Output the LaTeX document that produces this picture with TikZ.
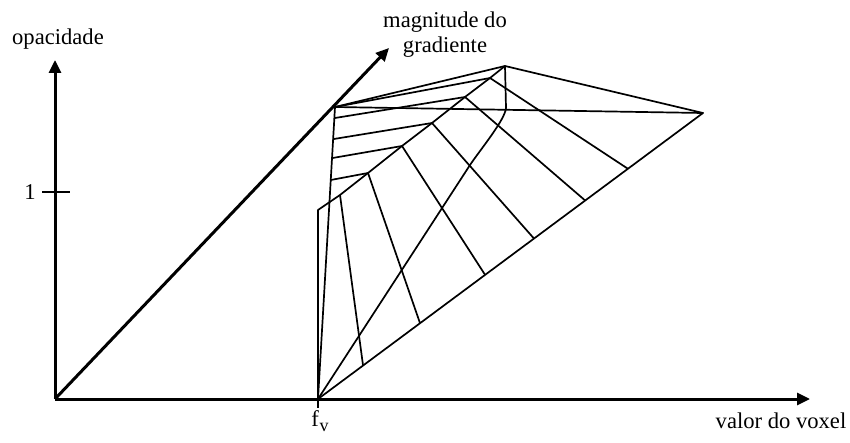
\documentclass[tikz,border=0pt]{standalone}
\usepackage{fontspec}
\setmainfont{Liberation Serif}
\usetikzlibrary{arrows.meta,calc}
\begin{document}
\begin{tikzpicture}[x=0.5pt,y=-0.5pt,
  axis/.style={line width=1.5pt,-{Triangle[length=6.5pt,width=6pt]}},
  mesh/.style={line width=0.85pt,line join=round},
  lbl/.style={font=\fontsize{11.3}{12.5}\selectfont,inner sep=0pt}]
\useasboundingbox (0,0) rectangle (850,443);
% axes
\coordinate (O) at (55,399);
\coordinate (ytip) at (55,60);
\coordinate (xtip) at (810,399);
\coordinate (dtip) at (389,48);
\draw[axis] (O) -- (ytip);
\draw[axis] (O) -- (xtip);
\draw[axis] (O) -- (dtip);
\coordinate (t1a) at (42,192);
\coordinate (t1b) at (70,192);
\draw[line width=1.4pt] (t1a) -- (t1b);
\node[lbl,anchor=east] (one) at (36,192) {1};
\node[lbl] (opac) at (58,39) {opacidade};
\node[lbl,align=center] (grad) at (445,35) {magnitude do\\gradiente};
\node[lbl] (voxel) at (781,421) {valor do voxel};
% mesh points
\coordinate (fv) at (318,399);
\coordinate (fvt) at (318,408);
\draw[line width=1.4pt] (fv) -- (fvt);
\node[lbl] (fvl) at (320,421) {f\kern0.3pt\raisebox{-0.5ex}{\fontsize{9}{9}\selectfont v}};
\coordinate (A) at (335,107);
\coordinate (B) at (505,66);
\coordinate (C) at (703,113);
\coordinate (D) at (506,108);
\coordinate (I0) at (318,210);
\coordinate (I1) at (340,195);
\coordinate (I2) at (368,173);
\coordinate (I3) at (402,146);
\coordinate (I4) at (432,123);
\coordinate (I5) at (465,97);
\coordinate (I6) at (490,78);
\coordinate (L5) at ($(A)!0.038!(fv)$);
\coordinate (L4) at ($(A)!0.110!(fv)$);
\coordinate (L3) at ($(A)!0.175!(fv)$);
\coordinate (L2) at ($(A)!0.250!(fv)$);
\coordinate (O1) at ($(fv)!0.117!(C)$);
\coordinate (O2) at ($(fv)!0.265!(C)$);
\coordinate (O3) at ($(fv)!0.434!(C)$);
\coordinate (O4) at ($(fv)!0.561!(C)$);
\coordinate (O5) at ($(fv)!0.694!(C)$);
\coordinate (O6) at ($(fv)!0.805!(C)$);
\coordinate (M1) at (470,165);
% outline
\draw[mesh] (fv) -- (A) -- (B) -- (C) -- (fv);
\draw[mesh] (A) -- (C);
\draw[mesh] (A) -- (I6);
\draw[mesh] (fv) -- (I0) -- (I1) -- (I2) -- (I3) -- (I4) -- (I5) -- (I6) -- (B);
% horizontal lines
\draw[mesh] (L5) -- (I5);
\draw[mesh] (L4) -- (I4);
\draw[mesh] (L3) -- (I3);
\draw[mesh] (L2) -- (I2);
% radial lines
\draw[mesh] (I1) -- (O1);
\draw[mesh] (I2) -- (O2);
\draw[mesh] (I3) -- (O3);
\draw[mesh] (I4) -- (O4);
\draw[mesh] (I5) -- (O5);
\draw[mesh] (I6) -- (O6);
% diagonal curve
\draw[mesh] (B) -- (D) .. controls (505,120) and (480,150) .. (M1) -- (fv);
\end{tikzpicture}
\end{document}
